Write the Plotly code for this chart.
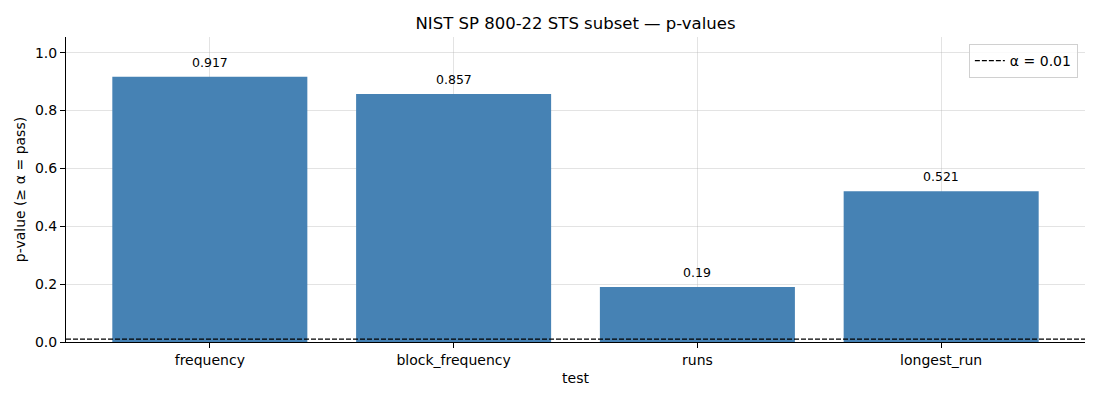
import plotly.graph_objects as go

tests = ["frequency", "block_frequency", "runs", "longest_run"]
p_values = [0.917, 0.857, 0.19, 0.521]
alpha = 0.01
y_ticks = [0.0, 0.2, 0.4, 0.6, 0.8, 1.0]

# page body has an 8px margin, so the figure is sized/offset to compensate
W, H = 1092, 392

fig = go.Figure()
fig.add_trace(go.Bar(
    x=tests, y=p_values, width=0.8,
    marker=dict(color="#4682b4", line=dict(width=0)),
    showlegend=False,
))

for t, v in zip(tests, p_values):
    fig.add_annotation(x=t, y=v, text=f"{round(v, 3):g}", showarrow=False,
                       yanchor="bottom", yshift=5, font=dict(size=12.5, color="black"))

fig.add_shape(type="line", xref="paper", x0=0, x1=1, yref="y", y0=alpha, y1=alpha,
              line=dict(color="black", width=1.3, dash="5px,2px"),
              showlegend=True, name="α = 0.01", layer="above")

grid = "rgba(176,176,176,0.35)"
fig.update_layout(
    width=W, height=H,
    margin=dict(l=58, r=15, t=29, b=58, autoexpand=False),
    paper_bgcolor="white", plot_bgcolor="white",
    font=dict(family="DejaVu Sans", size=14, color="black"),
    title=dict(text="NIST SP 800-22 STS subset — p-values", x=(58 + (W - 15 - 58) / 2) / W,
               xanchor="center", y=1 - 15 / H, yanchor="middle", font=dict(size=16.5)),
    legend=dict(x=0.993, y=0.977, xanchor="right", yanchor="top",
                bgcolor="rgba(255,255,255,0.8)", bordercolor="#d0d0d0", borderwidth=1,
                font=dict(size=14), itemwidth=30),
    xaxis=dict(title=dict(text="test", standoff=6, font=dict(size=14)), range=[-0.59, 3.59],
               tickfont=dict(size=14),
               showline=True, linecolor="black", linewidth=1,
               ticks="outside", ticklen=5, tickcolor="black",
               showgrid=True, gridcolor=grid, gridwidth=1,
               layer="above traces", zeroline=False),
    yaxis=dict(title=dict(text="p-value (≥ α = pass)", standoff=6, font=dict(size=14)),
               range=[0, 1.054],
               tickvals=y_ticks, ticktext=[f"{v:.1f}" for v in y_ticks],
               tickfont=dict(size=14),
               showline=True, linecolor="black", linewidth=1,
               ticks="outside", ticklen=5, tickcolor="black",
               showgrid=True, gridcolor=grid, gridwidth=1,
               layer="above traces", zeroline=False),
)

fig.write_html("out.html")
